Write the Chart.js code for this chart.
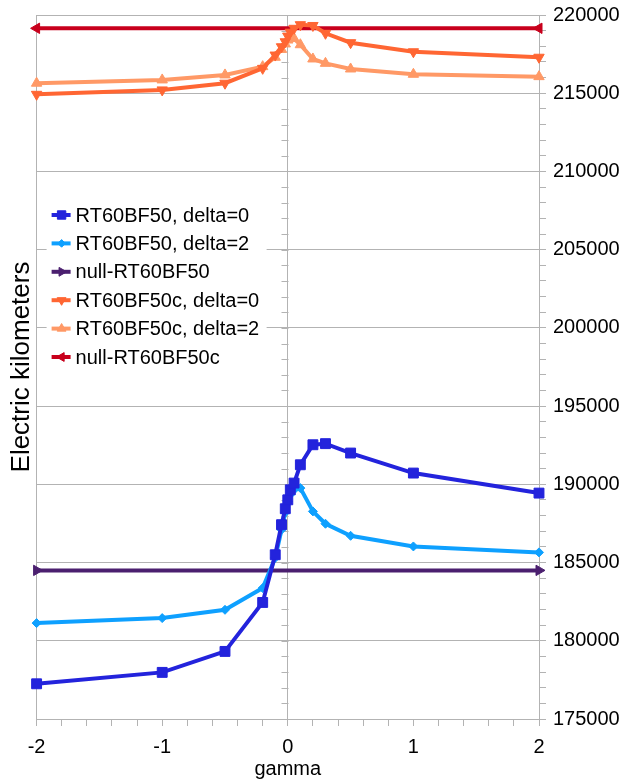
<!DOCTYPE html>
<html>
<head>
<meta charset="utf-8">
<script src="https://cdn.jsdelivr.net/npm/chart.js@4.4.1/dist/chart.umd.min.js"></script>
<style>
  html, body { margin: 0; padding: 0; background: #fff; }
  canvas { display: block; }
</style>
</head>
<body>
<canvas id="chart" width="623" height="781"></canvas>
<script>
// gamma sweep shared by the four RT60BF50 runs
var gamma = [-2, -1, -0.5, -0.2, -0.1, -0.05, -0.02, 0, 0.02, 0.05, 0.1, 0.2, 0.3, 0.5, 1, 2];
var bfDelta0 = [177250, 177980, 179320, 182450, 185500, 187420, 188440, 189010, 189650, 190080, 191250, 192530, 192600, 192000, 190720, 189440];
var bfDelta2 = [181130, 181450, 181980, 183370, 185300, 187100, 188200, 188900, 189350, 189650, 189760, 188270, 187480, 186710, 186030, 185650];
var bfcDelta0 = [214930, 215210, 215640, 216590, 217440, 217970, 218290, 218650, 218900, 219150, 219380, 219330, 218830, 218230, 217650, 217300];
var bfcDelta2 = [215640, 215850, 216170, 216700, 217300, 217800, 218150, 218400, 218550, 218500, 218100, 217190, 216910, 216550, 216210, 216060];
// null models are flat, drawn across the whole gamma range
var nullRange = [-2, 2];
var nullBF = [184500, 184500];
var nullBFc = [219150, 219150];

var seriesLabels = ['RT60BF50, delta=0', 'RT60BF50, delta=2', 'null-RT60BF50',
                    'RT60BF50c, delta=0', 'RT60BF50c, delta=2', 'null-RT60BF50c'];

var gridGray = '#b3b3b3';
var fontFamily = '"Liberation Sans", Arial, sans-serif';

function pts(xs, ys) {
  return xs.map(function(x, i) { return {x: x, y: ys[i]}; });
}

function series(label, xs, ys, color, style, rot, radius) {
  return {
    label: label,
    data: pts(xs, ys),
    borderColor: color,
    backgroundColor: color,
    pointBackgroundColor: color,
    pointBorderColor: color,
    borderWidth: 4,
    pointStyle: style,
    pointRotation: rot,
    pointRadius: radius,
    pointHoverRadius: radius,
    pointBorderWidth: 1,
    tension: 0,
    clip: false
  };
}

// legend sits inside the plot, on a white box over the gridlines
var insideLegend = {
  id: 'insideLegend',
  afterDatasetsDraw: function(chart) {
    var ctx = chart.ctx, area = chart.chartArea;
    var x0 = area.left + 10, y0 = area.top + 186, rowH = 28.4;
    ctx.save();
    ctx.fillStyle = '#fff';
    ctx.fillRect(x0, y0 - 1, 220, rowH * 6 + 4);
    ctx.font = '20px ' + fontFamily;
    ctx.textBaseline = 'middle';
    chart.data.datasets.forEach(function(ds, i) {
      var cy = y0 + 14 + i * rowH;
      ctx.strokeStyle = ds.borderColor;
      ctx.lineWidth = 4;
      ctx.beginPath();
      ctx.moveTo(x0 + 5, cy);
      ctx.lineTo(x0 + 24, cy);
      ctx.stroke();
      ctx.fillStyle = ds.pointBackgroundColor;
      ctx.strokeStyle = ds.pointBorderColor;
      ctx.lineWidth = 1;
      Chart.helpers.drawPoint(ctx, {
        pointStyle: ds.pointStyle,
        rotation: ds.pointRotation,
        radius: ds.pointRadius * 0.85,
        borderWidth: 1
      }, x0 + 15, cy);
      ctx.fillStyle = '#000';
      ctx.fillText(ds.label, x0 + 29, cy + 1);
    });
    ctx.restore();
  }
};

// minor ticks along the vertical line at gamma = 0
var zeroAxisTicks = {
  id: 'zeroAxisTicks',
  beforeDatasetsDraw: function(chart) {
    var ctx = chart.ctx;
    var x = Math.round(chart.scales.x.getPixelForValue(0)) + 0.5;
    var yScale = chart.scales.y;
    ctx.save();
    ctx.strokeStyle = gridGray;
    ctx.lineWidth = 1;
    yScale.ticks.forEach(function(t) {
      var py = Math.round(yScale.getPixelForValue(t.value)) + 0.5;
      ctx.beginPath();
      ctx.moveTo(x - 7, py);
      ctx.lineTo(x, py);
      ctx.stroke();
    });
    ctx.restore();
  }
};

function isWhole(v, step) {
  return Math.abs(v / step - Math.round(v / step)) < 1e-6;
}

var chart = new Chart(document.getElementById('chart'), {
  type: 'line',
  data: {
    datasets: [
      series(seriesLabels[0], gamma, bfDelta0, '#2323dc', 'rect', 0, 7),
      series(seriesLabels[1], gamma, bfDelta2, '#0ea0ff', 'rectRot', 0, 4.5),
      series(seriesLabels[2], nullRange, nullBF, '#4b1f6f', 'triangle', 90, 6),
      series(seriesLabels[3], gamma, bfcDelta0, '#ff6633', 'triangle', 180, 6),
      series(seriesLabels[4], gamma, bfcDelta2, '#ff9966', 'triangle', 0, 6),
      series(seriesLabels[5], nullRange, nullBFc, '#c8001c', 'triangle', 270, 6)
    ]
  },
  options: {
    responsive: false,
    animation: false,
    events: [],
    layout: { padding: { top: 0, right: 3, bottom: 0, left: 8 } },
    plugins: {
      legend: { display: false },
      tooltip: { enabled: false }
    },
    scales: {
      x: {
        type: 'linear',
        min: -2,
        max: 2,
        afterFit: function(scale) { scale.height = 62; },
        border: { color: gridGray },
        grid: {
          color: function(c) {
            var v = c.tick ? c.tick.value : 0;
            return (isWhole(v, 2)) ? gridGray : 'rgba(0,0,0,0)';
          },
          tickColor: gridGray,
          tickLength: 7
        },
        ticks: {
          stepSize: 0.2,
          autoSkip: false,
          maxRotation: 0,
          padding: 9,
          color: '#000',
          font: { family: fontFamily, size: 20 },
          callback: function(v) { return isWhole(v, 1) ? String(Math.round(v)) : ''; }
        },
        title: {
          display: true,
          text: 'gamma',
          color: '#000',
          font: { family: fontFamily, size: 20 },
          padding: { top: 0, bottom: 0 }
        }
      },
      y: {
        position: 'right',
        min: 175000,
        max: 220000,
        afterFit: function(scale) {
          scale.width = 81;
          scale.paddingTop = 15;
        },
        border: { color: gridGray },
        grid: {
          color: function(c) {
            var v = c.tick ? c.tick.value : 0;
            return isWhole(v, 5000) ? gridGray : 'rgba(0,0,0,0)';
          },
          tickColor: gridGray,
          tickLength: 7
        },
        ticks: {
          stepSize: 1000,
          autoSkip: false,
          padding: 7,
          color: '#000',
          font: { family: fontFamily, size: 20 },
          callback: function(v) { return isWhole(v, 5000) ? String(v) : ''; }
        }
      },
      yTitle: {
        position: 'left',
        min: 175000,
        max: 220000,
        border: { display: false },
        grid: { display: false, drawTicks: false },
        ticks: { display: false },
        title: {
          display: true,
          text: 'Electric kilometers',
          color: '#000',
          font: { family: fontFamily, size: 26, lineHeight: 1.1 },
          padding: { top: 0, bottom: 0 }
        }
      }
    }
  },
  plugins: [zeroAxisTicks, insideLegend]
});
</script>
</body>
</html>
